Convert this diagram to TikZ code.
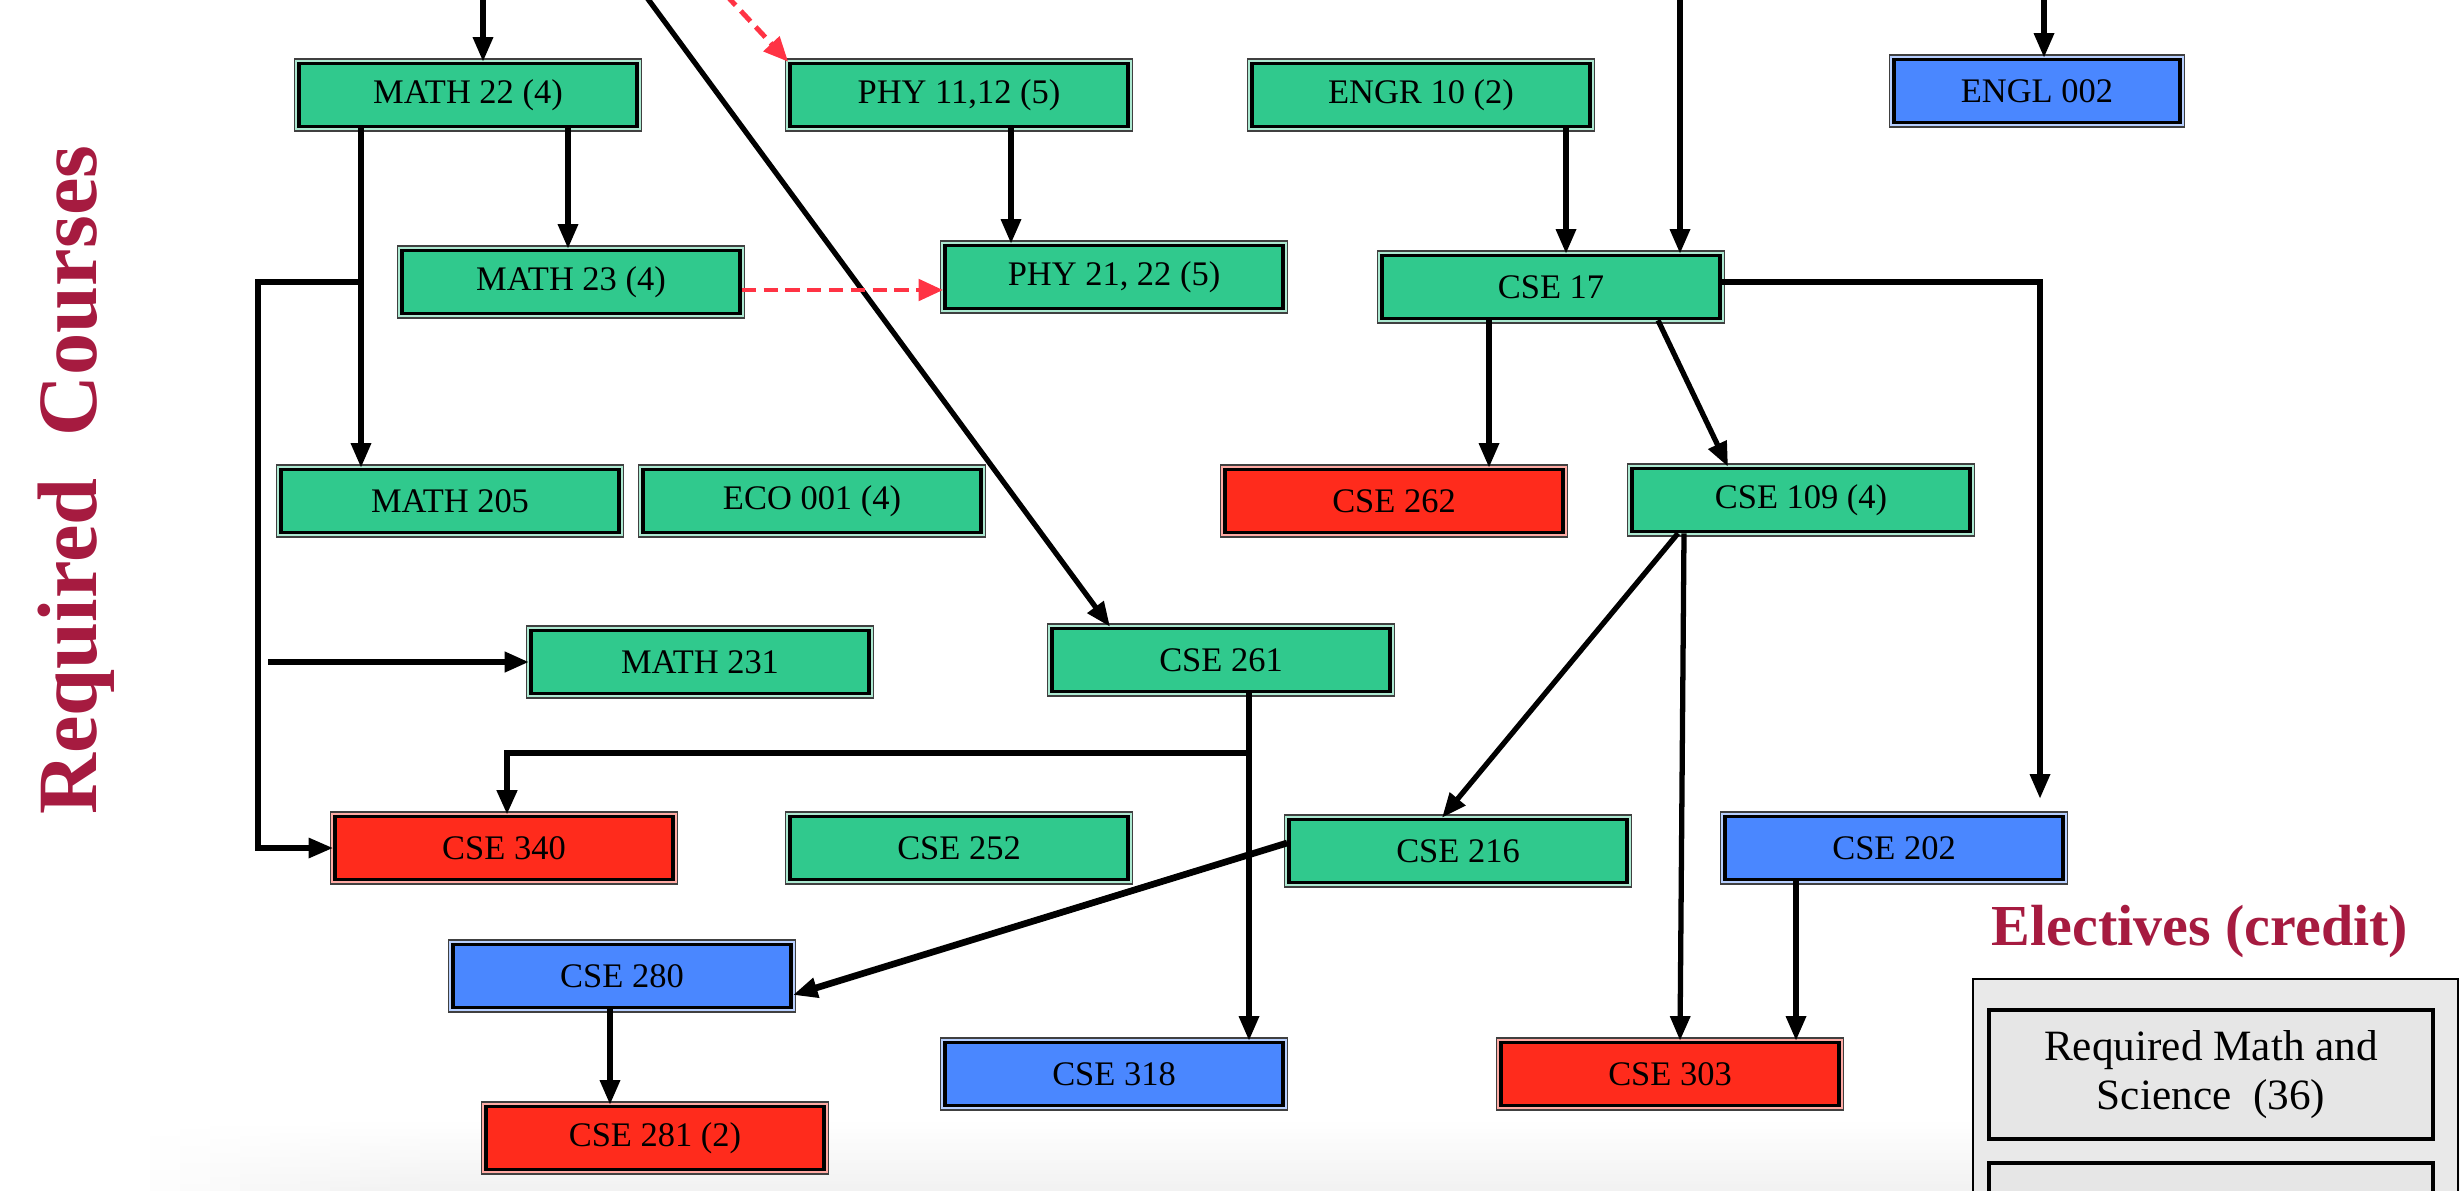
\documentclass[tikz,border=0pt]{standalone}
\usepackage{fontspec}
\setmainfont{Liberation Serif}
\usetikzlibrary{arrows.meta}

\definecolor{cgreen}{HTML}{30C98D}
\definecolor{cred}{HTML}{FF2B1C}
\definecolor{cblue}{HTML}{4A87FF}
\definecolor{crimson}{HTML}{A61B40}
\definecolor{cdash}{HTML}{FF3344}
\definecolor{panel}{HTML}{E9E9E9}
\definecolor{cell}{HTML}{E6E6E6}

\begin{document}
\begin{tikzpicture}[x=0.01cm,y=-0.01cm,
  course/.style={rectangle, inner sep=0pt,
    minimum width=3.38cm, minimum height=0.63cm,
    font=\fontsize{9.8}{11}\selectfont,
    preaction={draw=black!75, line width=3pt},
    preaction={draw=#1!40!white, line width=2pt},
    fill=#1, draw=black, line width=1pt},
  link/.style={line width=1.5pt, -{Triangle[length=7pt,width=5.5pt]}},
  heavy/.style={link, line width=1.9pt},
  coreq/.style={draw=cdash, line width=1.4pt, dash pattern=on 4pt off 2.2pt,
    -{Triangle[length=7pt,width=6pt]}},
  cellbox/.style={rectangle, draw=black, line width=1pt, fill=cell,
    minimum width=4.44cm, minimum height=1.29cm, inner sep=0pt,
    align=center, font=\fontsize{12.3}{13.7}\selectfont},
  heading/.style={text=crimson, font=\bfseries},
]
\useasboundingbox (0,0) rectangle (2460,1190);

% faint shadow along the bottom of the slide, softened to the left
\foreach \k in {0,...,9}
  \shade[top color=white, bottom color=black!8, opacity=0.1]
    (150+30*\k,1120) rectangle (2460,1190);

% side heading
\node[heading, rotate=90, anchor=base, inner sep=0pt,
  font=\fontsize{24}{28}\selectfont\bfseries] (reqhead) at (96,480) {Required~~Courses};

% courses
\node[course=cgreen] (m22)  at (468,95)   {MATH 22 (4)};
\node[course=cgreen] (p11)  at (959,95)   {PHY 11,12 (5)};
\node[course=cgreen] (e10)  at (1421,95)  {ENGR 10 (2)};
\node[course=cblue, minimum width=2.86cm] (engl) at (2037,91) {ENGL 002};
\node[course=cgreen] (m23)  at (571,282)  {MATH 23 (4)};
\node[course=cgreen] (p21)  at (1114,277) {PHY 21, 22 (5)};
\node[course=cgreen] (c17)  at (1551,287) {CSE 17};
\node[course=cgreen] (m205) at (450,501)  {MATH 205};
\node[course=cgreen] (eco)  at (812,501)  {ECO 001 (4)};
\node[course=cred]   (c262) at (1394,501) {CSE 262};
\node[course=cgreen] (c109) at (1801,500) {CSE 109 (4)};
\node[course=cgreen] (m231) at (700,662)  {MATH 231};
\node[course=cgreen] (c261) at (1221,660) {CSE 261};
\node[course=cred]   (c340) at (504,848)  {CSE 340};
\node[course=cgreen] (c252) at (959,848)  {CSE 252};
\node[course=cgreen] (c216) at (1458,851) {CSE 216};
\node[course=cblue]  (c202) at (1894,848) {CSE 202};
\node[course=cblue]  (c280) at (622,976)  {CSE 280};
\node[course=cblue]  (c318) at (1114,1074){CSE 318};
\node[course=cred]   (c303) at (1670,1074){CSE 303};
\node[course=cred]   (c281) at (655,1138) {CSE 281 (2)};

% loose ends of links coming from above / from the side
\coordinate (inA) at (483,-5);
\coordinate (inB) at (645,-5);
\coordinate (inC) at (726,-5);
\coordinate (inD) at (1680,-5);
\coordinate (inE) at (2044,-5);
\coordinate (inF) at (268,662);

\draw[link] (inA) -- (inA |- m22.north);
\draw[link] (inB) -- (1110,0 |- c261.north);
\draw[coreq] (inC) -- (p11.north west);
\draw[link] (inD) -- (inD |- c17.north);
\draw[link] (inE) -- (inE |- engl.north);
\draw[heavy] (inF) -- (m231.west);

% math sequence
\draw[link] (568,0 |- m22.south) -- (568,0 |- m23.north);
\draw[link] (361,0 |- m22.south) -- (361,0 |- m205.north);
\coordinate (mbr) at (361,282);
\draw[link] (mbr) -| (258,0 |- c340.west) -- (c340.west);
\draw[coreq] (m23.east |- 0,290) -- (p21.west |- 0,290);

% physics
\draw[link] (1011,0 |- p11.south) -- (1011,0 |- p21.north);

% CSE 17 and successors
\draw[link] (1566,0 |- e10.south) -- (1566,0 |- c17.north);
\draw[link] (1489,0 |- c17.south) -- (1489,0 |- c262.north);
\draw[link] (1658,0 |- c17.south) -- (1728,0 |- c109.north);
\draw[link, shorten >=0.16cm] (c17.east |- 0,282) -| (2040,0 |- c202.north);

% CSE 109 successors
\draw[link] (1678,0 |- c109.south) -- (1442,0 |- c216.north);
\draw[link] (1684,0 |- c109.south) -- (1680,0 |- c303.north);
\draw[link] (1796,0 |- c202.south) -- (1796,0 |- c303.north);

% CSE 261 successors
\draw[link] (1249,0 |- c261.south) -- (1249,0 |- c318.north);
\coordinate (sbr) at (1249,753);
\draw[heavy] (sbr) -| (507,0 |- c340.north);

% CSE 216 / 280 / 281
\draw[heavy] (c216.west |- 0,843) -- (c280.east |- 0,995);
\draw[link] (610,0 |- c280.south) -- (610,0 |- c281.north);

% electives panel
\node[heading, font=\fontsize{16.5}{19}\selectfont\bfseries] (elehead) at (2200,932) {Electives (credit)};
\fill[panel] (1973,979) rectangle (2458,1200);
\draw[line width=0.8pt] (1973,1200) -- (1973,979) -- (2458,979) -- (2458,1200);
\node[cellbox] (mathsci) at (2211,1074.5) {Required Math and\\Science~~(36)};
\draw[line width=1pt, fill=cell] (1989,1200) -- (1989,1163) -- (2433,1163) -- (2433,1200);
\end{tikzpicture}
\end{document}
